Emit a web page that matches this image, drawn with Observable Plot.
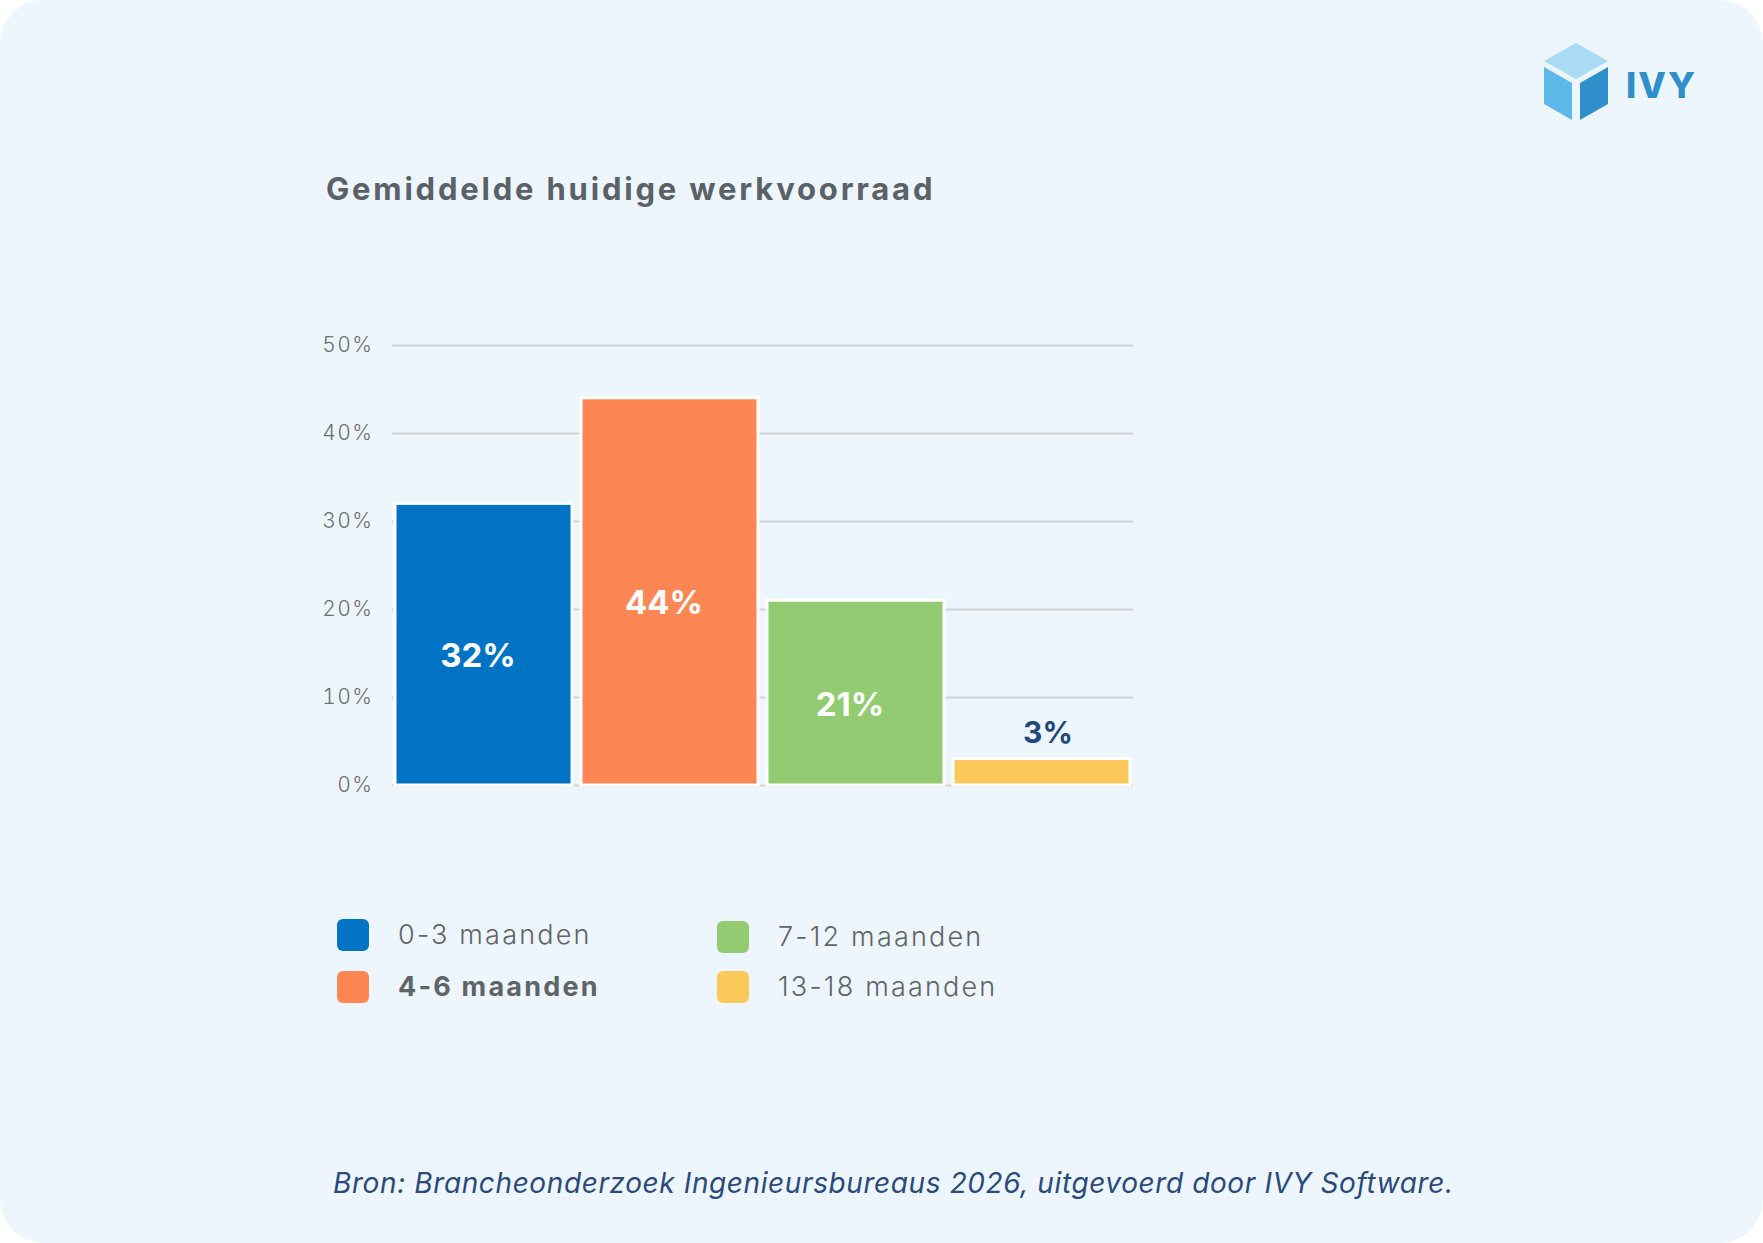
<!DOCTYPE html>
<html><head><meta charset="utf-8">
<script src="https://cdn.jsdelivr.net/npm/d3@7"></script>
<script src="https://cdn.jsdelivr.net/npm/@observablehq/plot@0.6"></script>
<style>
html,body{margin:0;padding:0;background:#fff;}
#card{position:absolute;left:0;top:0;width:1763px;height:1243px;background:#eef6fd;border-radius:44px;overflow:hidden;font-family:Inter,"Open Sans",sans-serif;}
#title{position:absolute;left:326px;top:170px;font-size:31px;font-weight:700;color:#5b6166;letter-spacing:2.8px;}
#chart{position:absolute;left:0;top:300px;}
#legend{position:absolute;left:337px;top:918px;}
.li{position:absolute;display:flex;align-items:center;white-space:nowrap;font-size:27px;color:#5f6469;letter-spacing:2.2px;font-weight:300;}
.sw{width:32px;height:32px;border-radius:6px;margin-right:29px;}
#caption{position:absolute;left:333px;top:1166px;font-size:28px;font-style:italic;color:#2a4a7a;letter-spacing:0.6px;}
#logo{position:absolute;left:1540px;top:36px;}
</style></head><body>
<div id="card">
<svg id="logo" width="180" height="90" viewBox="0 0 180 90">
 <polygon points="4,25 36,7 68,25 36,43" fill="#a9dbf4"/>
 <polygon points="4,31 32,47 32,84 4,68" fill="#5cb8e8"/>
 <polygon points="40,47 68,31 68,68 40,84" fill="#2e8fca"/>
 <text x="86" y="62" font-family="Inter,sans-serif" font-weight="800" font-size="36" fill="#2e8fca" letter-spacing="2">IVY</text>
</svg>
<div id="title">Gemiddelde huidige werkvoorraad</div>
<div id="chart"></div>
<div id="legend"></div>
<div id="caption">Bron: Brancheonderzoek Ingenieursbureaus 2026, uitgevoerd door IVY Software.</div>
</div>
<script>
const categories = ["0-3 maanden","4-6 maanden","7-12 maanden","13-18 maanden"];
const values = [32, 44, 21, 3];
const colors = ["#0073c4","#fd8655","#93cb73","#fbc85a"];
const labelColors = ["#ffffff","#ffffff","#ffffff","#1f4a7c"];
const yTicks = [0,10,20,30,40,50];

const data = categories.map((c,i)=>({c, v: values[i], col: colors[i], lc: labelColors[i], lab: values[i] + "%"}));

const chart = Plot.plot({
  width: 1200, height: 505,
  marginLeft: 392, marginRight: 67, marginTop: 45, marginBottom: 20,
  style: {background: "transparent", fontFamily: "Inter, sans-serif"},
  x: {domain: categories, paddingInner: 0.05, paddingOuter: 0.01, axis: null},
  y: {domain: [0, 50], ticks: yTicks, tickFormat: d => d + "%", label: null},
  marks: [
    Plot.gridY(yTicks, {stroke: "#cfd4d8", strokeOpacity: 1, strokeWidth: 2}),
    Plot.axisY(yTicks, {tickSize: 0, tickPadding: 19, tickFormat: d => d + "%", fontSize: 21, fill: "#6b7075", label: null, fontWeight: 300}),
    Plot.barY(data, {x: "c", y: "v", fill: "col", stroke: "#ffffff", strokeWidth: 3}),
    Plot.text(data.filter(d => d.v >= 10), {x: "c", y: d => d.v / 2, dy: 12, dx: -6, text: "lab", fill: "lc", fontSize: 33, fontWeight: 700}),
    Plot.text(data.filter(d => d.v < 10), {x: "c", y: "v", dy: -26, dx: 6, text: "lab", fill: "lc", fontSize: 30, fontWeight: 700})
  ]
});
document.getElementById("chart").appendChild(chart);
chart.querySelectorAll("g[aria-label='y-axis tick label'] text").forEach(t => t.setAttribute("letter-spacing", "1.5"));

const pos = [[0,0],[0,52],[380,2],[380,52]];
const leg = document.getElementById("legend");
categories.forEach((c,i)=>{
  const d = document.createElement("div");
  d.className = "li";
  d.style.left = pos[i][0] + "px"; d.style.top = pos[i][1] + "px";
  if (i === 1) { d.style.fontWeight = "700"; }
  d.innerHTML = `<div class="sw" style="background:${colors[i]}"></div><span>${c}</span>`;
  leg.appendChild(d);
});
</script>
</body></html>
